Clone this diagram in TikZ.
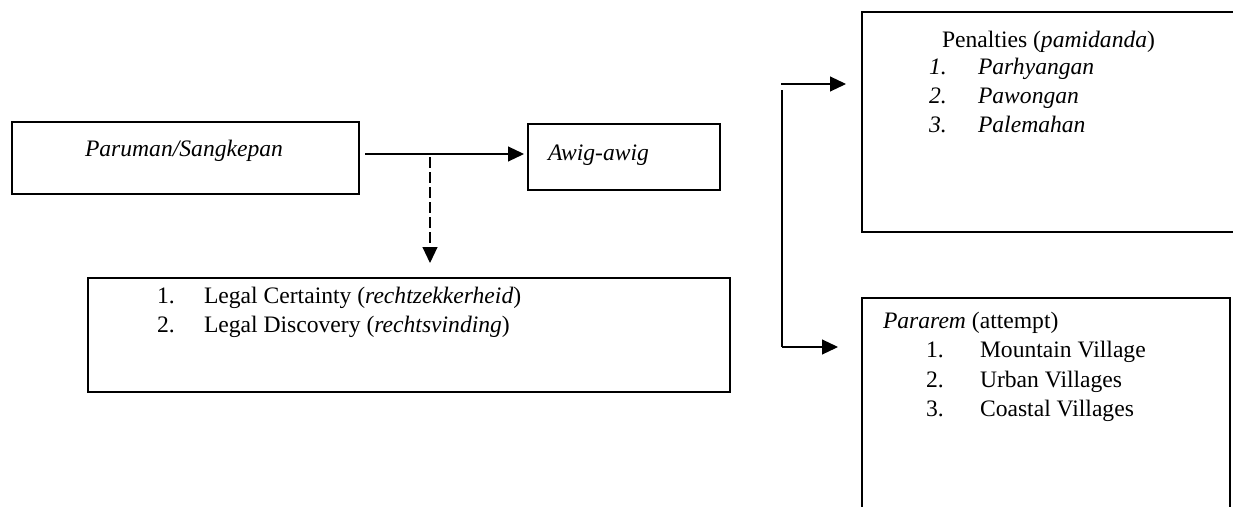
\documentclass[tikz,border=0pt]{standalone}
\usepackage{fontspec}
\setmainfont{Liberation Serif}
\usetikzlibrary{arrows.meta}
\newcommand{\diagfont}{\fontsize{23.6}{28}\selectfont}
\begin{document}
\begin{tikzpicture}[x=1pt,y=-1pt,
  boxnode/.style={draw=black,line width=1.1pt,inner sep=0pt,outer sep=0pt},
  txt/.style={anchor=base west,inner sep=0pt,outer sep=0pt,font=\diagfont},
  arr/.style={line width=1.1pt,-{Triangle[length=16pt,width=15pt]}},
  plain/.style={line width=1.1pt},
  dashline/.style={dash pattern=on 11pt off 4pt}
]
\useasboundingbox (0,0) rectangle (1233,506);
\fill[white] (0,0) rectangle (1233,506);
% boxes
\node[boxnode,minimum width=347pt,minimum height=72pt] (A) at (185.5,158) {};
\node[boxnode,minimum width=192pt,minimum height=66pt] (B) at (624,157) {};
\node[boxnode,minimum width=642pt,minimum height=114pt] (C) at (409,335) {};
\node[boxnode,minimum width=390pt,minimum height=220pt] (D) at (1057,122) {};
\node[boxnode,minimum width=368pt,minimum height=230pt] (E) at (1046,413) {};
% texts
\node[txt] (ta) at (85,156) {\textit{Paruman/Sangkepan}};
\node[txt] (tb) at (548,160) {\textit{Awig-awig}};
\node[txt] (c1n) at (157,303) {1.};
\node[txt] (c1) at (204,303) {Legal Certainty (\textit{rechtzekkerheid})};
\node[txt] (c2n) at (157,332) {2.};
\node[txt] (c2) at (204,332) {Legal Discovery (\textit{rechtsvinding})};
\node[txt] (d0) at (942,47) {Penalties (\textit{pamidanda})};
\node[txt] (d1n) at (929,74) {\textit{1.}};
\node[txt] (d1) at (978,74) {\textit{Parhyangan}};
\node[txt] (d2n) at (929,103) {\textit{2.}};
\node[txt] (d2) at (978,103) {\textit{Pawongan}};
\node[txt] (d3n) at (929,132) {\textit{3.}};
\node[txt] (d3) at (978,132) {\textit{Palemahan}};
\node[txt] (e0) at (883,328) {\textit{Pararem} (attempt)};
\node[txt] (e1n) at (926,357) {1.};
\node[txt] (e1) at (980,357) {Mountain Village};
\node[txt] (e2n) at (926,387) {2.};
\node[txt] (e2) at (980,387) {Urban Villages};
\node[txt] (e3n) at (926,416) {3.};
\node[txt] (e3) at (980,416) {Coastal Villages};
% connectors
\coordinate (j) at (430,154);
\draw[arr,shorten <=6pt,shorten >=4pt] (A.east |- j) -- (B.west |- j);
\draw[arr,dashline,shorten <=3pt,shorten >=15pt] (j) -- (j |- C.north);
\coordinate (t) at (781,84);
\coordinate (vt) at (782,90);
\coordinate (b) at (782,347);
\draw[arr,shorten >=16pt] (t) -- (t -| D.west);
\draw[plain] (vt) -- (b);
\draw[arr,shorten >=24pt] (b) -- (b -| E.west);
\end{tikzpicture}
\end{document}
